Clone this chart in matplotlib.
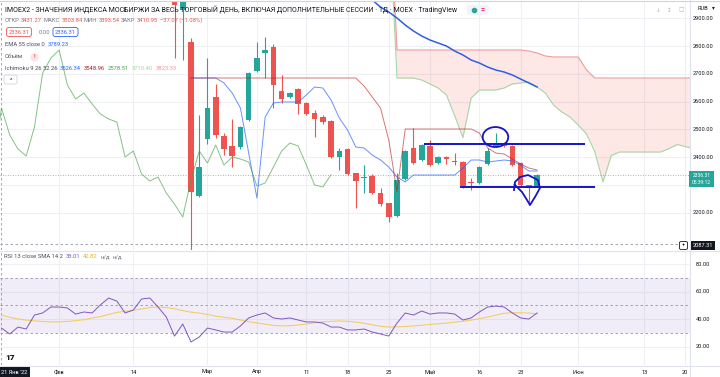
import numpy as np
import matplotlib
matplotlib.use("Agg")
import matplotlib.pyplot as plt
import matplotlib.transforms as mtransforms
from matplotlib.lines import Line2D
from matplotlib.patches import Ellipse, FancyBboxPatch, Rectangle

plt.rcParams['font.family'] = ['Roboto', 'DejaVu Sans']

# ---------------- data (bar index 0 = 24 Feb 2022) ----------------
bar_start = -2
opens = [3080, 2930, 2814, 2259.5, 2464.9, 2616.2, 2475.7, 2439.6, 2436.0, 2533.3,
         2709.9, 2774.8, 2796.4, 2637.8, 2616.2, 2645.0, 2594.6, 2558.6, 2544.1, 2529.7,
         2400.0, 2428.8, 2342.3, 2324.3, 2331.5, 2270.3, 2234.0, 2187.4, 2320.7, 2432.4,
         2389.2, 2439.6, 2378.4, 2400.0, 2385.6, 2382.0, 2309.9, 2306.3, 2375.0, 2439.6,
         2450.5, 2439.6, 2378.4, 2299.1, 2295.5]
highs = [3120, 3100, 2830, 2551.4, 2756.8, 2663.1, 2486.5, 2536.9, 2512.0, 2708.0,
         2814.4, 2832.4, 2807.2, 2695.5, 2635.0, 2648.6, 2600.0, 2569.0, 2551.4, 2535.0,
         2432.4, 2432.4, 2344.0, 2371.2, 2338.7, 2288.3, 2234.5, 2342.3, 2425.0, 2504.5,
         2448.0, 2461.3, 2404.0, 2402.0, 2414.4, 2385.0, 2324.3, 2368.0, 2432.4, 2486.5,
         2453.0, 2443.0, 2381.0, 2300.0, 2340.0]
lows = [2757, 2750, 1620, 2255.9, 2446.8, 2468.5, 2407.2, 2364.0, 2430.0, 2530.0,
        2705.0, 2684.7, 2576.6, 2594.6, 2612.0, 2555.0, 2550.0, 2472.1, 2518.9, 2398.0,
        2353.2, 2336.0, 2216.2, 2270.3, 2266.0, 2223.4, 2165.8, 2184.0, 2318.0, 2375.0,
        2386.0, 2368.0, 2375.0, 2374.8, 2371.2, 2288.3, 2281.1, 2303.0, 2372.0, 2437.0,
        2437.0, 2368.0, 2296.0, 2227.0, 2292.0]
closes = [2948, 3050, 2273.9, 2364.0, 2576.6, 2479.3, 2428.8, 2403.6, 2508.1, 2702.7,
          2756.8, 2785.6, 2659.5, 2609.0, 2630.6, 2591.0, 2555.0, 2536.9, 2526.1, 2400.0,
          2421.6, 2338.7, 2313.5, 2327.9, 2270.3, 2230.6, 2183.8, 2317.1, 2421.6, 2378.4,
          2443.2, 2371.2, 2400.0, 2392.8, 2382.0, 2295.5, 2306.3, 2364.0, 2421.6, 2450.5,
          2439.6, 2371.2, 2299.1, 2291.9, 2336.31]

# Ichimoku lines from bar 0
tenkan = [2684.7, 2684.7, 2684.7, 2684.7, 2666.7, 2630.6, 2576.6, 2414.4, 2252.3, 2544.1,
          2594.6, 2598.2, 2598.2, 2598.2, 2623.4, 2652.3, 2648.6, 2605.4, 2540.5, 2497.3,
          2436.0, 2432.4, 2407.2, 2389.2, 2364.0, 2327.9, 2309.9, 2335.1, 2335.1, 2335.1,
          2335.1, 2335.1, 2335.1, 2360.0, 2389.2, 2389.2, 2382.0, 2385.6, 2389.2, 2385.6,
          2371.2, 2349.5, 2349.5]
kijun = [2684.7] * 21 + [2655.9, 2616.2, 2576.6, 2461.3, 2275.0, 2500.9, 2500.9, 2500.9,
                         2500.9, 2500.9, 2500.9, 2500.9, 2500.9, 2500.9, 2486.5, 2432.4,
                         2414.4, 2410.8, 2392.8, 2374.8, 2360.4, 2353.2]
lagging_shift = 25

# leading spans from bar 24
span_start = 24
span_a = [3300, 2684.7, 2684.7, 2684.7, 2677.5, 2663.1, 2648.6, 2623.4, 2549.0, 2470.0,
          2612.6, 2641.4, 2641.4, 2641.4, 2648.6, 2663.1, 2666.7, 2670.3, 2652.3, 2630.6,
          2587.4, 2562.2, 2544.1, 2515.0, 2483.0, 2420.0, 2310.0, 2405.0, 2418.0, 2418.0,
          2418.0, 2418.0, 2418.0, 2418.0, 2430.0, 2445.0, 2437.5, 2430.0]
span_b = [3400] + [2785.6] * 16 + [2782.0, 2774.8, 2764.0, 2760.4, 2760.4, 2760.4, 2760.4,
                                   2713.5] + [2684.7] * 13

# EMA 55 from bar 22
ema_start = 22
ema55 = [2965.8, 2940.5, 2922.5, 2900.9, 2875.7, 2854.1, 2836.0, 2821.6, 2810.8, 2800.0,
         2782.0, 2767.6, 2749.5, 2738.7, 2724.3, 2713.5, 2706.3, 2695.5, 2681.1, 2666.7,
         2652.3]

# RSI panel from bar -23
rsi_start = -23
rsi = [33.7, 29.4, 34.4, 33.0, 43.1, 44.6, 48.9, 48.9, 48.2, 43.8, 45.3, 44.6, 50.4, 55.4,
       53.2, 44.6, 46.7, 54.7, 55.4, 48.9, 41.7, 27.9, 36.6, 23.6, 27.2, 33.7, 32.3, 30.8,
       30.8, 35.2, 41.0, 43.1, 44.6, 41.0, 40.2, 41.0, 39.5, 38.1, 38.1, 37.3, 34.4, 34.4,
       32.3, 32.3, 33.0, 30.8, 29.4, 27.9, 37.3, 44.6, 43.1, 46.0, 43.8, 44.6, 44.6, 43.8,
       39.5, 41.0, 45.3, 48.9, 49.6, 48.9, 44.6, 41.0, 40.2, 44.6]
rsi_ma = [43.0, 41.5, 40.3, 39.4, 38.9, 38.4, 38.1, 38.1, 38.5, 39.0, 39.7, 41.0, 42.0, 43.5,
          45.0, 45.8, 46.5, 47.5, 48.5, 48.9, 48.5, 47.6, 46.3, 45.2, 44.5, 43.5, 42.3, 41.5,
          40.8, 39.5, 38.3, 37.4, 36.5, 35.6, 35.2, 35.4, 35.9, 36.6, 37.5, 38.2, 38.5, 38.8,
          38.6, 38.0, 37.2, 36.0, 35.0, 34.4, 34.6, 34.8, 35.2, 35.7, 36.3, 36.8, 37.3, 37.9,
          38.6, 39.4, 40.5, 41.7, 43.0, 44.3, 44.8, 44.7, 44.5, 43.9]

price_ticks = [2900, 2800, 2700, 2600, 2500, 2400, 2300, 2200]
price_labels_shown = [2900, 2800, 2700, 2600, 2500, 2400, 2200]  # 2300 hidden by last-price tag
rsi_ticks = [80, 60, 40, 20]
time_tick_bars = [-16, -7, 2, 8, 14, 19, 24, 29, 35, 40, 47, 55, 60]
time_tick_labels = ['Фев', '14', 'Мар', 'Апр', '11', '18', '25', 'Май', '16', '23', 'Июн', '13', '20']

last_price = 2336.31
cross_price = 2087.31
cross_bar = -23

# hand-drawn annotations (bar, price)
upper_line = ([28.3, 47.8], [2446.8, 2446.8])
lower_line = ([32.6, 49.0], [2291.9, 2291.9])
circle_top = (36.95, 2472.0, 3.1, 72.0)
loop_bars = [39.2, 39.32, 39.93, 40.9, 42.11, 42.35, 41.75, 41.14, 40.78, 40.17, 39.56, 39.3]
loop_prices = [2281, 2309.9, 2327.9, 2335.1, 2317.1, 2288.3, 2255.9, 2227.0, 2245.0, 2273.9,
               2291.9, 2300]

# ---------------- figure ----------------
W, H = 720, 377
fig = plt.figure(figsize=(W / 100, H / 100), dpi=100)
fig.patch.set_facecolor('white')
XL, XR = -23.18, 60.56

ax = fig.add_axes([0, 127 / H, 690 / W, 249 / H])
ax.set_xlim(XL, XR)
ax.set_ylim(2064.9, 2962.2)
ax.set_axis_off()

rs = fig.add_axes([0, 12 / H, 690 / W, 113 / H])
rs.set_xlim(XL, XR)
rs.set_ylim(6.97, 88.68)
rs.set_axis_off()

GRID = '#eef0f4'
GREEN = '#26a69a'
RED = '#ef5350'
TXT = '#131722'
GRAY = '#787b86'

for b in time_tick_bars:
    ax.axvline(b, color=GRID, lw=0.8, zorder=0)
    rs.axvline(b, color=GRID, lw=0.8, zorder=0)
for p in price_ticks:
    ax.axhline(p, color=GRID, lw=0.8, zorder=0)
for r in rsi_ticks:
    rs.axhline(r, color=GRID, lw=0.8, zorder=0)

# cloud
sk = np.arange(span_start, span_start + len(span_a))
ax.fill_between(sk, span_a, span_b, color='#f44336', alpha=0.12, lw=0, zorder=1)
ax.plot(sk, span_a, color='#A5D6A7', lw=0.8, zorder=2)
ax.plot(sk, span_b, color='#EF9A9A', lw=0.8, zorder=2)

# candles
kb = np.arange(bar_start, bar_start + len(opens))
o = np.array(opens); c = np.array(closes); h = np.array(highs); l = np.array(lows)
cols = np.where(c >= o, GREEN, RED)
ax.vlines(kb, l, h, colors=cols, lw=0.8, zorder=3)
ax.bar(kb, np.maximum(np.abs(c - o), 3.0), bottom=np.minimum(o, c), width=0.68,
       color=cols, lw=0, zorder=3)

# indicator lines
k0 = np.arange(0, len(tenkan))
ax.plot(k0, tenkan, color='#2962FF', lw=0.7, alpha=0.7, zorder=4)
ax.plot(np.arange(0, len(kijun)), kijun, color='#B71C1C', lw=0.7, alpha=0.6, zorder=4)
ax.plot(kb - lagging_shift, c, color='#43A047', lw=0.7, alpha=0.65, zorder=4)
ax.plot(np.arange(ema_start, ema_start + len(ema55)), ema55, color='#2f5fe0', lw=1.1, zorder=4)

# price lines
ax.axhline(last_price, color=GREEN, lw=0.6, ls=(0, (1, 2)), alpha=0.8, zorder=2)
ax.axhline(cross_price, color='#9598a1', lw=0.6, ls=(0, (3, 3)), zorder=2)
ax.axvline(cross_bar, color='#9598a1', lw=0.6, ls=(0, (3, 3)), zorder=2)

# annotations
AC = '#1414c8'
ax.plot(*upper_line, color=AC, lw=1.4, zorder=6, solid_capstyle='butt')
ax.plot(*lower_line, color=AC, lw=1.4, zorder=6, solid_capstyle='butt')
cx, cy, cw, ch = circle_top
ax.add_patch(Ellipse((cx, cy), cw, ch, fill=False, ec=AC, lw=1.3, zorder=6))
ax.plot(loop_bars, loop_prices, color=AC, lw=1.3, zorder=6)

# RSI panel
rs.axhspan(30, 70, color='#7e57c2', alpha=0.1, lw=0, zorder=0)
for lev in (70, 50, 30):
    rs.axhline(lev, color='#9598a1', lw=0.6, ls=(0, (3, 3)), zorder=1)
rk = np.arange(rsi_start, rsi_start + len(rsi))
rs.plot(rk, rsi_ma, color='#f2c94c', lw=0.8, alpha=0.85, zorder=2)
rs.plot(rk, rsi, color='#7e57c2', lw=0.7, zorder=3)
rs.axvline(cross_bar, color='#9598a1', lw=0.6, ls=(0, (3, 3)), zorder=1)

# frame lines
def fline(x0, y0, x1, y1, color='#e0e3eb', lw=0.8):
    fig.add_artist(Line2D([x0 / W, x1 / W], [1 - y0 / H, 1 - y1 / H], color=color, lw=lw,
                          transform=fig.transFigure))

fline(0, 251, 720, 251)
fline(0, 365.5, 720, 365.5)
fline(690, 0, 690, 377)
fline(0, 0.5, 720, 0.5, color='#d1d4dc')

renderer = fig.canvas.get_renderer()

def ftxt(x, y, s, **kw):
    return fig.text(x / W, 1 - y / H, s, **kw)

def width_of(s, fs):
    t = fig.text(0, 0, s, fontsize=fs)
    w = t.get_window_extent(renderer).width
    t.remove()
    return w

def fit_row(x, y, pieces, right, gap_em=0.45, fs0=5.0):
    total = sum(width_of(s, fs0) for s, _ in pieces) + gap_em * fs0 * 100 / 72 * (len(pieces) - 1)
    fs = fs0 * (right - x) / total
    gap = gap_em * fs * 100 / 72
    cxp = x
    for s, col in pieces:
        t = ftxt(cxp, y, s, color=col, fontsize=fs, ha='left', va='center', zorder=10)
        cxp += t.get_window_extent(renderer).width + gap
    return fs

# legends
fit_row(5, 10, [("IMOEX2 - ЗНАЧЕНИЯ ИНДЕКСА МОСБИРЖИ ЗА ВЕСЬ ТОРГОВЫЙ ДЕНЬ, ВКЛЮЧАЯ "
                 "ДОПОЛНИТЕЛЬНЫЕ СЕССИИ · 1Д · MOEX · TradingView", TXT)], 460)
fig.add_artist(FancyBboxPatch((467 / W, 1 - 15 / H), 22 / W, 10 / H,
                              boxstyle='round,pad=0,rounding_size=0.006', fc='#f0f3fa',
                              ec='none', transform=fig.transFigure))
fig.add_artist(Line2D([474 / W], [1 - 10 / H], marker='o', ms=3, color=GREEN, transform=fig.transFigure))
ftxt(483, 10, '=', color='#e91e63', fontsize=5, ha='center', va='center', fontweight='bold')

fit_row(5, 20, [("ОТКР", GRAY), ("3431.27", RED), ("МАКС", GRAY), ("3503.84", RED),
                ("МИН", GRAY), ("3393.54", RED), ("ЗАКР", GRAY), ("3410.95", RED),
                ("−37.07 (−1.08%)", RED)], 202, gap_em=0.25)
fs_leg = fit_row(5, 45, [("EMA 55 close 0", '#4a4e5a'), ("3789.23", '#2962FF')], 69)
ftxt(19, 32, "2336.31", color=RED, fontsize=fs_leg, ha='center', va='center',
     bbox=dict(boxstyle='round,pad=0.35,rounding_size=0.4', fc='white', ec=RED, lw=0.6))
ftxt(44, 32, "0.00", color=GRAY, fontsize=fs_leg, ha='center', va='center')
ftxt(65.5, 32, "2336.31", color='#2962FF', fontsize=fs_leg, ha='center', va='center',
     bbox=dict(boxstyle='round,pad=0.35,rounding_size=0.4', fc='white', ec='#2962FF', lw=0.6))
ftxt(5, 57, "Объём", color='#4a4e5a', fontsize=fs_leg, ha='left', va='center')
fig.add_artist(Line2D([34 / W], [1 - 57 / H], marker='o', ms=5, color='#fde3e3', transform=fig.transFigure))
ftxt(34, 57, "!", color=RED, fontsize=fs_leg, ha='center', va='center', fontweight='bold')
fit_row(5, 68, [("Ichimoku 9 26 52 26", '#4a4e5a'), ("3526.34", '#2962FF'), ("3548.96", '#B71C1C'),
                ("2578.51", '#43A047'), ("3710.40", '#A5D6A7'), ("3823.33", '#EF9A9A')], 180)
fig.add_artist(FancyBboxPatch((4 / W, 1 - 84 / H), 13 / W, 9 / H,
                              boxstyle='round,pad=0,rounding_size=0.004', fc='white',
                              ec='#d1d4dc', lw=0.6, transform=fig.transFigure))
ftxt(10.5, 80, "^", color=TXT, fontsize=fs_leg, ha='center', va='center')
fit_row(4, 257, [("RSI 13 close SMA 14 2", '#4a4e5a'), ("33.01", '#7e57c2'), ("42.82", '#e6b422'),
                 ("н/д", GRAY), ("н/д", GRAY)], 124)

# axis labels
fs_ax = 4.0 * 20 / width_of("2900.00", 4.0)
tp = mtransforms.blended_transform_factory(fig.transFigure, ax.transData)
for p in price_labels_shown:
    fig.text(703 / W, p, f"{p:.2f}", transform=tp, fontsize=fs_ax, color=TXT, ha='center', va='center')
tr = mtransforms.blended_transform_factory(fig.transFigure, rs.transData)
for r in rsi_ticks:
    fig.text(703 / W, r, f"{r:.2f}", transform=tr, fontsize=fs_ax, color=TXT, ha='center', va='center')
tt = mtransforms.blended_transform_factory(rs.transData, fig.transFigure)
for b, s in zip(time_tick_bars, time_tick_labels):
    fig.text(b, 1 - 372 / H, s, transform=tt, fontsize=fs_ax, color=TXT, ha='center', va='center')
ftxt(14, 372, "21 Янв '22", color='white', fontsize=fs_ax, ha='center', va='center',
     bbox=dict(boxstyle='square,pad=0.45', fc='#131722', ec='none'))
ftxt(697, 8, "RUB", color=TXT, fontsize=fs_ax, ha='left', va='center')
ftxt(713, 8, "▾", color=TXT, fontsize=fs_ax, ha='center', va='center', family='DejaVu Sans')
for xx, s in ((658, "↓"), (669, "↕"), (681, "□")):
    ftxt(xx, 10, s, color='#b2b5be', fontsize=fs_ax, ha='center', va='center', family='DejaVu Sans')

# price label boxes
fig.add_artist(Rectangle((689 / W, 1 - 187 / H), 25 / W, 16 / H, fc=GREEN, ec='none',
                         transform=fig.transFigure, zorder=8))
fs_box = fs_ax * 0.88
ftxt(701.5, 175.0, "2336.31", color='white', fontsize=fs_box, ha='center', va='center', zorder=9)
ftxt(701.5, 182.8, "05:39:12", color='white', fontsize=fs_box, ha='center', va='center', zorder=9)
fig.add_artist(Rectangle((691 / W, 1 - 250 / H), 24 / W, 9 / H, fc='#131722', ec='none',
                         transform=fig.transFigure, zorder=8))
ftxt(703, 245.5, "2087.31", color='white', fontsize=fs_ax, ha='center', va='center', zorder=9)
fig.add_artist(FancyBboxPatch((679.5 / W, 1 - 249.5 / H), 8 / W, 8 / H,
                              boxstyle='round,pad=0,rounding_size=0.003', fc='white',
                              ec='#131722', lw=0.6, transform=fig.transFigure, zorder=8))
ftxt(683.5, 245.5, "+", color=TXT, fontsize=fs_ax, ha='center', va='center', zorder=9)
ftxt(10, 358, "17", color=TXT, fontsize=6, ha='center', va='center', fontweight='heavy')

fig.savefig('out.png', dpi=100, facecolor='white')
